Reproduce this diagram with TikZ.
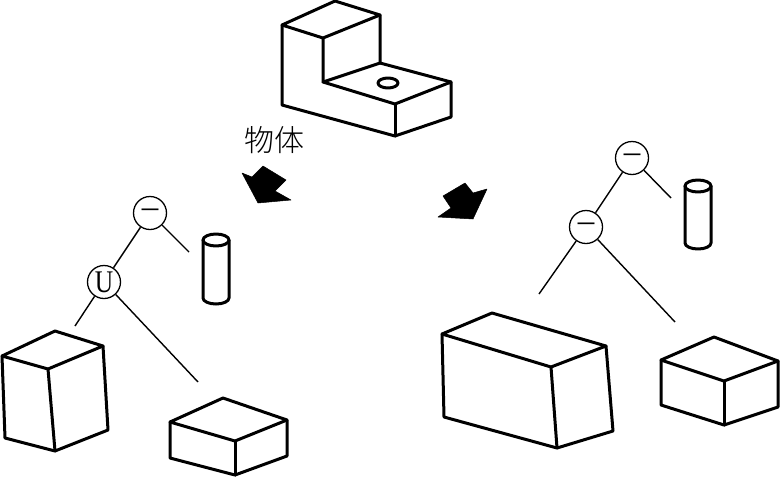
\documentclass[tikz,border=0pt]{standalone}
\usepackage{fontspec}
\setmainfont{Liberation Serif}
\newfontfamily\cjk{Noto Sans CJK SC Light}
\tikzset{
  solid part/.style={line width=3pt,line join=round,line cap=round,draw=black},
  opnode/.style={circle,draw=black,line width=1.3pt,fill=white,minimum size=33pt,inner sep=0pt,font=\fontsize{33}{33}\selectfont},
  unionnode/.style={opnode,font=\fontsize{30}{30}\selectfont},
  treeedge/.style={line width=1.4pt,draw=black},
  bigarrow/.style={fill=black,draw=black,line width=0.5pt,line join=round}
}
\newcommand{\blockshape}[7]{%
  \draw[solid part] #1 -- #2 -- #3 -- #4 -- cycle;
  \draw[solid part] #4 -- #5 -- #6 -- #7 -- #2;
  \draw[solid part] #3 -- #6;
}
\newcommand{\cylshape}[3]{%
  \draw[solid part] (#1,#2) ellipse [x radius=13pt,y radius=6pt];
  \draw[solid part] (#1-13,#2) -- (#1-13,#3) arc [start angle=180,end angle=360,x radius=13pt,y radius=6pt] -- (#1+13,#2);
}
\newcommand{\opdash}{\raisebox{-2.5pt}{–}}
\begin{document}
\begin{tikzpicture}[x=1pt,y=-1pt]
\useasboundingbox (0,0) rectangle (781,477);
% top object
\draw[solid part] (282,25) -- (335,1) -- (380,15) -- (323,38) -- cycle;
\draw[solid part] (282,25) -- (282,105) -- (395,136) -- (451,117) -- (451,82) -- (395,104) -- (323,82) -- (323,38);
\draw[solid part] (380,15) -- (380,63) -- (323,82);
\draw[solid part] (380,63) -- (451,82);
\draw[solid part] (395,104) -- (395,136);
\draw[solid part] (388,83) ellipse [x radius=10pt,y radius=5pt];
% label
\node[font=\cjk\fontsize{30}{30}\selectfont,inner sep=0pt] (label) at (274,140) {物体};
% arrows
\fill[bigarrow] (242,173) -- (252,177) -- (263,166) -- (286,180) -- (275,191) -- (291,200) -- (258,203) -- cycle;
\fill[bigarrow] (438,217) -- (451,208) -- (443,196) -- (465,183) -- (473,193) -- (487,189) -- (473,219) -- cycle;
% left tree
\node[opnode] (la) at (150,213) {\opdash};
\node[unionnode] (lb) at (104,282) {\scalebox{0.85}[1.05]{U}};
\coordinate (la1) at (189,252);
\coordinate (lb1) at (75,326);
\coordinate (lb2) at (198,382);
\draw[treeedge] (la) -- (lb);
\draw[treeedge] (la) -- (la1);
\draw[treeedge] (lb) -- (lb1);
\draw[treeedge] (lb) -- (lb2);
\cylshape{216}{240}{298}
\blockshape{(55,331)}{(103,346)}{(48,369)}{(2,356)}{(5,438)}{(55,451)}{(108,430)}
\blockshape{(223,398)}{(287,420)}{(235,441)}{(170,422)}{(170,458)}{(235,475)}{(287,456)}
% right tree
\node[opnode] (ra) at (632,158) {\opdash};
\node[opnode] (rb) at (586,227) {\opdash};
\coordinate (ra1) at (671,198);
\coordinate (rb1) at (539,294);
\coordinate (rb2) at (675,322);
\draw[treeedge] (ra) -- (rb);
\draw[treeedge] (ra) -- (ra1);
\draw[treeedge] (rb) -- (rb1);
\draw[treeedge] (rb) -- (rb2);
\cylshape{698}{186}{243}
\blockshape{(492,313)}{(606,346)}{(551,367)}{(442,334)}{(444,417)}{(557,448)}{(613,431)}
\blockshape{(714,337)}{(778,361)}{(724,381)}{(661,360)}{(661,405)}{(724,425)}{(778,407)}
\end{tikzpicture}
\end{document}
